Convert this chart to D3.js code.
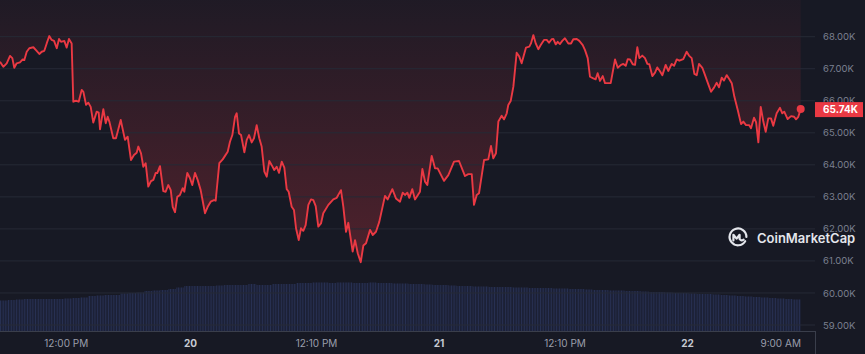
<!DOCTYPE html>
<html>
<head>
<meta charset="utf-8">
<script src="https://cdn.jsdelivr.net/npm/d3@7"></script>
<style>
    body { margin: 0; background: #171924; overflow: hidden; }
    svg { display: block; font-family: Inter, 'Noto Sans', sans-serif; }
</style>
</head>
<body>
<svg id="chart" width="865" height="354"></svg>
<script>
// BTC price. hours are counted from 19 Mar 00:00
var hours = [
    5.65, 5.97, 6.30, 6.62, 6.84, 7.03, 7.26, 7.58, 7.84, 8.00,
    8.23, 8.48, 8.87, 9.19, 9.45, 9.68, 9.93, 10.16, 10.41, 10.64,
    10.87, 11.13, 11.35, 11.54, 11.86, 12.09, 12.31, 12.57, 12.73, 12.99,
    13.25, 13.54, 13.70, 13.96, 14.18, 14.41, 14.66, 14.99, 15.18, 15.31,
    15.63, 15.86, 16.05, 16.21, 16.59, 16.85, 17.31, 17.72, 17.98, 18.30,
    18.59, 18.85, 19.01, 19.27, 19.49, 19.72, 19.97, 20.23, 20.46, 20.69,
    20.84, 21.10, 21.42, 21.65, 21.90, 22.14, 22.33, 22.55, 22.77, 23.03,
    23.30, 23.45, 23.74, 24.00, 24.22, 24.48, 24.74, 25.03, 25.45, 25.71,
    26.00, 26.32, 26.48, 26.83, 27.16, 27.38, 27.64, 27.86, 28.09, 28.35,
    28.51, 28.73, 28.93, 29.25, 29.48, 29.70, 29.96, 30.18, 30.44, 30.69,
    30.92, 31.18, 31.41, 31.66, 31.89, 32.14, 32.37, 32.60, 32.86, 33.11,
    33.34, 33.53, 33.82, 34.04, 34.24, 34.50, 34.72, 34.94, 35.17, 35.43,
    35.69, 35.91, 36.14, 36.39, 36.65, 36.87, 37.36, 37.84, 38.17, 38.58,
    38.81, 39.07, 39.29, 39.71, 39.94, 40.20, 40.49, 40.74, 41.00, 41.39,
    41.65, 41.96, 42.28, 42.83, 43.09, 43.54, 43.89, 44.28, 44.54, 44.76,
    44.99, 45.18, 45.47, 45.73, 46.21, 46.44, 46.70, 46.92, 47.34, 47.66,
    47.92, 48.53, 48.95, 49.50, 49.98, 50.56, 50.88, 51.21, 51.43, 51.69,
    51.91, 52.40, 52.81, 53.07, 53.29, 53.55, 53.78, 54.10, 54.33, 54.59,
    54.74, 54.97, 55.23, 55.55, 55.80, 56.03, 56.45, 56.77, 56.93, 57.16,
    57.39, 57.64, 57.87, 58.19, 58.45, 58.67, 58.93, 59.09, 59.32, 59.51,
    59.73, 59.95, 60.21, 60.54, 60.80, 61.02, 61.35, 61.60, 61.93, 62.15,
    62.41, 62.63, 62.95, 63.18, 63.37, 63.60, 63.86, 64.08, 64.63, 65.05,
    65.31, 65.63, 65.85, 66.08, 66.28, 66.50, 66.76, 66.98, 67.20, 67.40,
    67.68, 67.94, 68.17, 68.36, 68.65, 68.91, 69.13, 69.39, 69.62, 69.94,
    70.19, 70.52, 70.75, 71.01, 71.26, 71.64, 71.97, 72.19, 72.45, 72.71,
    72.94, 73.16, 73.48, 73.74, 74.06, 74.32, 74.61, 74.87, 75.09, 75.35,
    75.57, 75.83, 76.09, 76.32, 76.57, 76.90, 77.22, 77.44, 77.70, 77.99,
    78.18, 78.47, 78.67, 78.89, 79.12, 79.37, 79.60, 79.85, 80.11, 80.33,
    80.66, 80.98, 81.20, 81.39, 81.72, 82.05, 82.34, 82.53, 82.75, 82.98
];

// price in thousands of USD
var prices = [
    67.22, 67.06, 67.17, 67.40, 67.33, 67.03, 67.17, 67.20, 67.29, 67.27,
    67.53, 67.64, 67.67, 67.56, 67.46, 67.53, 67.56, 67.79, 68.02, 67.90,
    67.87, 67.64, 67.93, 67.84, 67.87, 67.66, 67.93, 67.79, 65.97, 66.00,
    65.97, 66.34, 66.28, 65.87, 65.94, 65.81, 65.32, 65.66, 65.63, 65.11,
    65.74, 65.30, 65.50, 65.35, 64.83, 64.83, 65.40, 64.78, 64.88, 64.15,
    64.31, 64.38, 64.57, 64.36, 63.94, 64.05, 63.32, 63.49, 63.53, 63.75,
    63.74, 63.96, 63.18, 63.16, 63.37, 63.21, 62.69, 62.52, 63.00, 63.06,
    63.27, 63.16, 63.75, 63.58, 63.37, 63.75, 63.53, 63.21, 62.49, 62.69,
    62.85, 62.90, 62.88, 64.05, 64.17, 64.28, 64.41, 64.72, 64.93, 65.50,
    65.61, 64.98, 64.93, 64.39, 64.78, 64.93, 64.70, 64.83, 65.24, 64.83,
    64.57, 63.79, 63.63, 64.12, 63.99, 63.84, 63.94, 63.75, 64.10, 63.91,
    63.24, 63.16, 62.69, 62.59, 62.02, 61.65, 62.02, 61.94, 62.12, 62.75,
    62.92, 62.90, 62.71, 62.07, 62.17, 62.49, 62.75, 62.92, 62.97, 63.21,
    62.69, 61.91, 62.19, 61.29, 61.65, 61.24, 60.96, 61.48, 61.55, 61.97,
    61.81, 61.91, 62.22, 63.03, 62.92, 63.24, 62.95, 62.85, 63.13, 63.06,
    63.13, 62.97, 63.24, 62.92, 63.16, 63.87, 63.47, 63.37, 64.28, 63.89,
    63.89, 63.50, 63.68, 64.10, 64.12, 63.65, 63.71, 63.71, 62.75, 63.06,
    63.11, 64.15, 64.17, 64.59, 64.20, 64.36, 65.35, 65.53, 65.42, 65.61,
    65.87, 65.99, 66.44, 67.50, 67.38, 67.17, 67.66, 67.69, 67.79, 68.05,
    67.79, 67.61, 67.74, 67.90, 67.90, 67.81, 67.92, 67.93, 67.76, 67.84,
    67.77, 67.87, 67.95, 67.79, 67.79, 67.92, 67.93, 67.87, 67.74, 67.58,
    67.33, 66.75, 66.70, 66.67, 66.86, 66.62, 66.77, 66.55, 66.55, 67.29,
    67.03, 67.12, 67.15, 67.09, 67.30, 67.29, 67.14, 67.12, 67.67, 67.33,
    67.41, 67.33, 67.15, 67.14, 66.77, 66.88, 67.04, 66.92, 66.80, 67.12,
    66.93, 67.15, 67.09, 67.29, 67.25, 67.30, 67.53, 67.41, 67.33, 66.84,
    66.80, 67.15, 67.03, 66.80, 66.51, 66.28, 66.41, 66.56, 66.42, 66.72,
    66.63, 66.80, 66.67, 66.55, 66.13, 65.71, 65.27, 65.35, 65.24, 65.24,
    65.14, 65.47, 65.33, 64.70, 65.81, 65.35, 65.03, 65.45, 65.45, 65.22,
    65.61, 65.78, 65.61, 65.66, 65.43, 65.52, 65.50, 65.42, 65.50, 65.74
];

// 24h volume, billions of USD, one bucket per 1/100 of the time span
var volumes = [
    30.5, 31, 31.5, 32, 32, 32, 32, 32, 32.5, 33,
    33.5, 35, 35.5, 36, 36, 37.5, 38, 38.5, 40, 40.5,
    41, 42, 43.5, 45, 45, 45, 45, 45.5, 46, 46,
    46, 47, 46, 46, 47, 47, 47, 48, 48, 48.5,
    48.5, 48, 48.5, 48.5, 48, 48, 48.5, 48, 48, 47.5,
    47.5, 47, 47, 46.5, 46, 46, 45.5, 45, 45, 44.5,
    44.5, 44, 44, 44, 43.5, 43.5, 43, 43, 43, 42.5,
    42.5, 42, 42, 41.5, 41, 41, 40.5, 40.5, 40, 40,
    39.5, 39, 39, 38.5, 38, 38, 37.5, 37, 37, 36.5,
    36, 35.5, 35, 34.5, 34, 33.5, 33, 32.5, 32, 31.5
];

var priceTicks = [ 59, 60, 61, 62, 63, 64, 65, 66, 67, 68 ];
var timeTicks = [ 12, 24, 36.17, 48, 60.17, 72, 81 ];
var timeLabels = [ '12:00 PM', '20', '12:10 PM', '21', '12:10 PM', '22', '9:00 AM' ];

var red = '#ea3943';
var svg = d3.select( '#chart' );

var x = d3.scaleLinear()
    .domain( d3.extent( hours ) )
    .range( [ 0, 800.7 ] );

var y = d3.scaleLinear()
    .domain( [ 59, 68 ] )
    .range( [ 325, 36.7 ] );

var yVol = d3.scaleLinear()
    .domain( [ 0, 50 ] )
    .range( [ 331, 281 ] );

var band = d3.scaleBand()
    .domain( d3.range( volumes.length ) )
    .range( [ 0, 800.7 ] );

var points = hours.map( function( h, i ) {
    return [ h, prices[ i ] ];
});

var defs = svg.append( 'defs' );

var grad = defs.append( 'linearGradient' )
    .attr( 'id', 'redFade' )
    .attr( 'gradientUnits', 'userSpaceOnUse' )
    .attr( 'x1', 0 ).attr( 'y1', 0 )
    .attr( 'x2', 0 ).attr( 'y2', 265 );
grad.append( 'stop' ).attr( 'offset', 0 )
    .attr( 'stop-color', red ).attr( 'stop-opacity', 0.04 );
grad.append( 'stop' ).attr( 'offset', 1 )
    .attr( 'stop-color', red ).attr( 'stop-opacity', 0.27 );

var stripes = defs.append( 'pattern' )
    .attr( 'id', 'volStripes' )
    .attr( 'patternUnits', 'userSpaceOnUse' )
    .attr( 'width', 2.7 )
    .attr( 'height', 10 );
stripes.append( 'rect' )
    .attr( 'width', 2.7 ).attr( 'height', 10 )
    .attr( 'fill', '#1c2137' );
stripes.append( 'rect' )
    .attr( 'width', 0.9 ).attr( 'height', 10 )
    .attr( 'fill', '#283154' );

// fill between the top and the price line
svg.append( 'path' )
    .datum( points )
    .attr( 'fill', 'url(#redFade)' )
    .attr( 'd', d3.area()
        .x( function( d ) { return x( d[ 0 ] ); } )
        .y0( 0 )
        .y1( function( d ) { return y( d[ 1 ] ); } ) );

svg.append( 'g' )
    .selectAll( 'rect' )
    .data( volumes )
    .enter()
    .append( 'rect' )
        .attr( 'x', function( d, i ) { return band( i ); } )
        .attr( 'width', band.bandwidth() )
        .attr( 'y', function( d ) { return yVol( d ); } )
        .attr( 'height', function( d ) { return yVol( 0 ) - yVol( d ); } )
        .attr( 'fill', 'url(#volStripes)' );

svg.append( 'g' )
    .selectAll( 'line' )
    .data( priceTicks )
    .enter()
    .append( 'line' )
        .attr( 'x1', 0 )
        .attr( 'x2', 815 )
        .attr( 'y1', function( d ) { return y( d ); } )
        .attr( 'y2', function( d ) { return y( d ); } )
        .attr( 'stroke', '#262a36' )
        .attr( 'stroke-width', 1 );

svg.append( 'path' )
    .datum( points )
    .attr( 'fill', 'none' )
    .attr( 'stroke', red )
    .attr( 'stroke-width', 1.9 )
    .attr( 'stroke-linejoin', 'round' )
    .attr( 'd', d3.line()
        .x( function( d ) { return x( d[ 0 ] ); } )
        .y( function( d ) { return y( d[ 1 ] ); } ) );

var last = points[ points.length - 1 ];
svg.append( 'circle' )
    .attr( 'cx', x( last[ 0 ] ) )
    .attr( 'cy', y( last[ 1 ] ) )
    .attr( 'r', 4 )
    .attr( 'fill', red );

// price axis on the right
var yAxis = svg.append( 'g' )
    .attr( 'transform', 'translate( 823, 0 )' )
    .call( d3.axisRight( y )
        .tickValues( priceTicks )
        .tickSize( 0 )
        .tickPadding( 0 )
        .tickFormat( function( d ) { return d.toFixed( 2 ) + 'K'; } ) );
yAxis.select( '.domain' ).remove();
yAxis.selectAll( 'text' )
    .attr( 'fill', '#7b8090' )
    .style( 'font-size', '9.5px' )
    .style( 'font-family', 'Inter, sans-serif' );

// time axis
var xAxis = svg.append( 'g' )
    .attr( 'transform', 'translate( 0, 331 )' )
    .call( d3.axisBottom( x )
        .tickValues( timeTicks )
        .tickSize( 0 )
        .tickPadding( 9 )
        .tickFormat( function( d, i ) { return timeLabels[ i ]; } ) );
xAxis.select( '.domain' ).remove();
xAxis.selectAll( 'text' )
    .attr( 'fill', '#9a9eab' )
    .style( 'font-size', '10px' )
    .style( 'font-family', 'Inter, sans-serif' )
    .filter( function( d, i ) { return /^\d+$/.test( timeLabels[ i ] ); } )
        .attr( 'fill', '#c6c9d2' )
        .style( 'font-weight', 700 );

svg.append( 'line' )
    .attr( 'x1', 0 ).attr( 'x2', 815 )
    .attr( 'y1', 331.5 ).attr( 'y2', 331.5 )
    .attr( 'stroke', '#3a3e4b' );
svg.append( 'line' )
    .attr( 'x1', 815.5 ).attr( 'x2', 815.5 )
    .attr( 'y1', 331 ).attr( 'y2', 354 )
    .attr( 'stroke', '#3a3e4b' );

// current price tag
svg.append( 'rect' )
    .attr( 'x', 815 )
    .attr( 'y', y( last[ 1 ] ) - 7 )
    .attr( 'width', 48 )
    .attr( 'height', 15 )
    .attr( 'fill', red );
svg.append( 'text' )
    .attr( 'x', 823 )
    .attr( 'y', y( last[ 1 ] ) + 0.5 )
    .attr( 'dy', '0.35em' )
    .attr( 'fill', '#ffffff' )
    .style( 'font-size', '10px' )
    .style( 'font-weight', 700 )
    .text( last[ 1 ].toFixed( 2 ) + 'K' );

// watermark
var logo = svg.append( 'g' )
    .attr( 'transform', 'translate( 738, 237 )' )
    .attr( 'fill', 'none' )
    .attr( 'stroke', '#e4e6ec' )
    .attr( 'stroke-width', 2.2 )
    .attr( 'stroke-linecap', 'round' )
    .attr( 'stroke-linejoin', 'round' );
logo.append( 'path' )
    .attr( 'd', 'M 7.2 4.2 A 8.4 8.4 0 1 1 8.4 0' );
logo.append( 'path' )
    .attr( 'd', 'M -4.6 3.4 L -4.6 -2.2 L -1.4 1.6 L 1.6 -2.2 L 1.6 2 Q 3.2 4.4 5.6 2.6' );
svg.append( 'text' )
    .attr( 'x', 757 )
    .attr( 'y', 242.5 )
    .attr( 'fill', '#e4e6ec' )
    .style( 'font-size', '13px' )
    .style( 'font-weight', 600 )
    .text( 'CoinMarketCap' );
</script>
</body>
</html>
